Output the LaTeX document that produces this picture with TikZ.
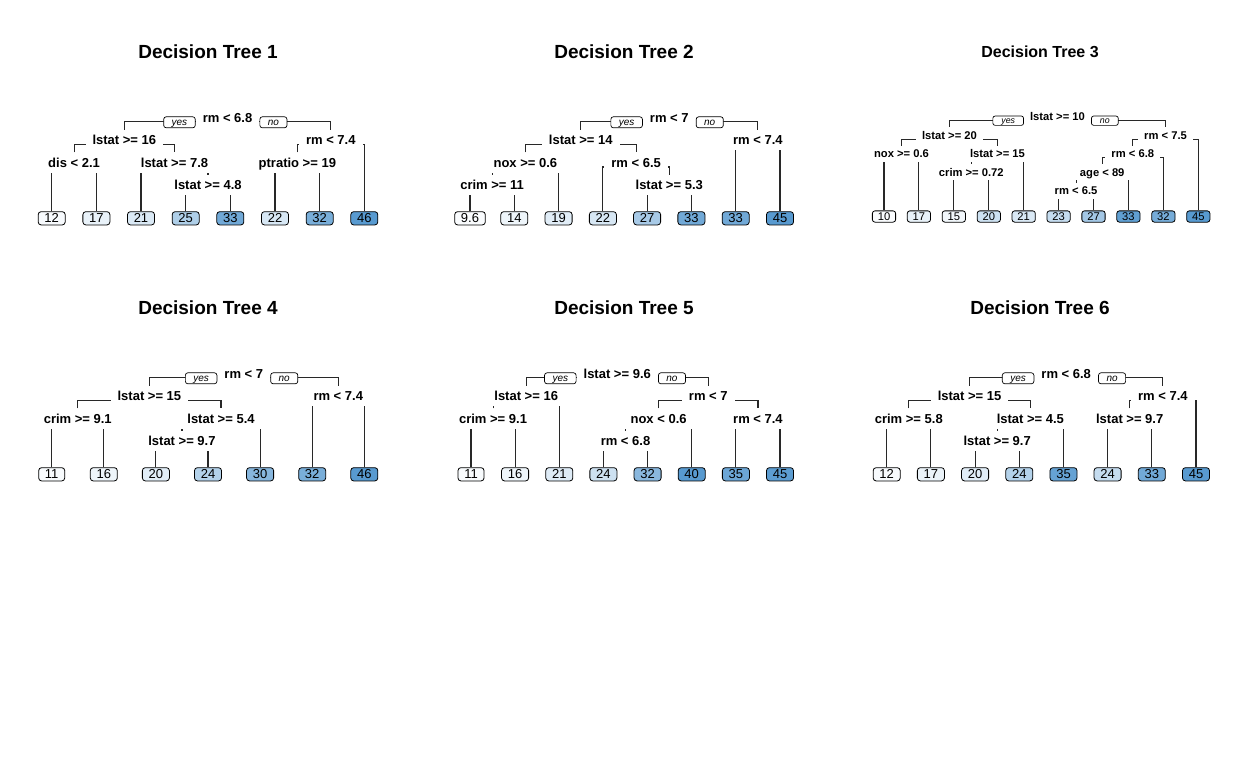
\documentclass[tikz,border=0pt]{standalone}
\usepackage{fontspec}
\setmainfont{Liberation Sans}
\usetikzlibrary{calc,backgrounds}
\definecolor{lb}{RGB}{88,154,208}
\definecolor{ln}{RGB}{40,40,40}
\tikzset{
  split/.style={font=\fontsize{13}{13}\selectfont\bfseries, fill=white, inner xsep=7pt, inner ysep=0pt,
    text height=9.4pt, text depth=0pt, minimum height=20pt},
  splitS/.style={font=\fontsize{11.2}{11.2}\selectfont\bfseries, fill=white, inner xsep=6pt, inner ysep=0pt,
    text height=8.1pt, text depth=0pt, minimum height=16pt},
  leafbox/.style={draw=black, rounded corners=3pt, line width=0.8pt, fill=lb!#1!white,
    font=\fontsize{13}{13}\selectfont, inner xsep=6.3pt, inner ysep=2pt, text height=9.3pt, text depth=0pt},
  leafboxS/.style={draw=black, rounded corners=2.6pt, line width=0.8pt, fill=lb!#1!white,
    font=\fontsize{11.2}{11.2}\selectfont, inner xsep=5.4pt, inner ysep=1.6pt, text height=8.1pt, text depth=0pt},
  yesno/.style={draw=black, rounded corners=2.5pt, line width=0.7pt, fill=white,
    font=\fontsize{10}{10}\selectfont\itshape, inner xsep=8pt, inner ysep=0.6pt, text height=7.6pt, text depth=2.2pt},
  yesnoS/.style={draw=black, rounded corners=2.2pt, line width=0.7pt, fill=white,
    font=\fontsize{8.8}{8.8}\selectfont\itshape, inner xsep=8.5pt, inner ysep=0.4pt, text height=6.6pt, text depth=1.9pt},
  conn/.style={draw=ln, line width=1.1pt},
  ttl/.style={font=\fontsize{19}{19}\selectfont\bfseries, text height=13.6pt, text depth=0pt, inner sep=0pt},
  ttlS/.style={font=\fontsize{16}{16}\selectfont\bfseries, text height=11.5pt, text depth=0pt, inner sep=0pt}
}
% leaf: name, x, y, fill percentage, value
\newcommand\lf[5]{\node[leafbox=#4] (#1) at (#2,#3) {#5};}
\newcommand\lfS[5]{\node[leafboxS=#4] (#1) at (#2,#3) {#5};}
% branch: left child, parent, right child (optional drop of the bar below the split label)
\newcommand\cn[4][4.5]{\draw[conn] (#2.north) |- ($(#3.center)+(0,#1)$) -| (#4.north);}
\begin{document}
\begin{tikzpicture}[x=1pt,y=-1pt]
\useasboundingbox (0,0) rectangle (1248,768);

% ---------- titles ----------
\node[ttl] (h1) at (208,52) {Decision Tree 1};
\node[ttl] (h2) at (624,52) {Decision Tree 2};
\node[ttlS] (h3) at (1040,52) {Decision Tree 3};
\node[ttl] (h4) at (208,308) {Decision Tree 4};
\node[ttl] (h5) at (624,308) {Decision Tree 5};
\node[ttl] (h6) at (1040,308) {Decision Tree 6};

% ---------- tree 1 ----------
\node[split] (t1r) at (227.55,117.3) {rm < 6.8};
\node[split] (t1a) at (124.3,139.9) {lstat >= 16};
\node[split] (t1b) at (330.8,139.9) {rm < 7.4};
\node[split] (t1c) at (74.05,162.5) {dis < 2.1};
\node[split] (t1d) at (174.5,162.5) {lstat >= 7.8};
\node[split] (t1e) at (297.35,162.5) {ptratio >= 19};
\node[split] (t1f) at (208.0,185.1) {lstat >= 4.8};
\lf{t1l1}{51.7}{218.3}{5}{12}
\lf{t1l2}{96.4}{218.3}{13}{17}
\lf{t1l3}{141.0}{218.3}{22}{21}
\lf{t1l4}{185.7}{218.3}{48}{25}
\lf{t1l5}{230.3}{218.3}{85}{33}
\lf{t1l6}{275.0}{218.3}{24}{22}
\lf{t1l7}{319.7}{218.3}{80}{32}
\lf{t1l8}{364.3}{218.3}{100}{46}
\node[yesno,anchor=east] (t1y) at ($(t1r.west)+(0,5)$) {yes};
\node[yesno,anchor=west] (t1n) at ($(t1r.east)+(0,5)$) {no};

% ---------- tree 2 ----------
\node[split] (t2r) at (669.3,117.3) {rm < 7};
\node[split] (t2a) at (580.75,139.9) {lstat >= 14};
\node[split] (t2b) at (757.85,139.9) {rm < 7.4};
\node[split] (t2c) at (525.4,162.5) {nox >= 0.6};
\node[split] (t2d) at (636.1,162.5) {rm < 6.5};
\node[split] (t2e) at (492.15,185.1) {crim >= 11};
\node[split] (t2f) at (669.25,185.1) {lstat >= 5.3};
\lf{t2l1}{470.0}{218.3}{3}{9.6}
\lf{t2l2}{514.3}{218.3}{10}{14}
\lf{t2l3}{558.6}{218.3}{18}{19}
\lf{t2l4}{602.9}{218.3}{24}{22}
\lf{t2l5}{647.1}{218.3}{52}{27}
\lf{t2l6}{691.4}{218.3}{85}{33}
\lf{t2l7}{735.7}{218.3}{85}{33}
\lf{t2l8}{780.0}{218.3}{100}{45}
\node[yesno,anchor=east] (t2y) at ($(t2r.west)+(0,5)$) {yes};
\node[yesno,anchor=west] (t2n) at ($(t2r.east)+(0,5)$) {no};

% ---------- tree 3 ----------
\node[splitS] (t3r) at (1057.5,116.7) {lstat >= 10};
\node[splitS] (t3a) at (949.5,135.2) {lstat >= 20};
\node[splitS] (t3b) at (1165.55,135.2) {rm < 7.5};
\node[splitS] (t3c) at (901.45,153.7) {nox >= 0.6};
\node[splitS] (t3d) at (997.5,153.7) {lstat >= 15};
\node[splitS] (t3e) at (1132.8,153.7) {rm < 6.8};
\node[splitS] (t3f) at (971.3,172.2) {crim >= 0.72};
\node[splitS] (t3g) at (1102.2,172.2) {age < 89};
\node[splitS] (t3h) at (1076.05,190.7) {rm < 6.5};
\lfS{t3l1}{884.0}{216.5}{3}{10}
\lfS{t3l2}{918.9}{216.5}{13}{17}
\lfS{t3l3}{953.8}{216.5}{8}{15}
\lfS{t3l4}{988.8}{216.5}{30}{20}
\lfS{t3l5}{1023.7}{216.5}{22}{21}
\lfS{t3l6}{1058.6}{216.5}{35}{23}
\lfS{t3l7}{1093.5}{216.5}{55}{27}
\lfS{t3l8}{1128.4}{216.5}{95}{33}
\lfS{t3l9}{1163.4}{216.5}{82}{32}
\lfS{t3l10}{1198.3}{216.5}{100}{45}
\node[yesnoS,anchor=east] (t3y) at ($(t3r.west)+(0,4)$) {yes};
\node[yesnoS,anchor=west] (t3n) at ($(t3r.east)+(0,4)$) {no};

% ---------- tree 4 ----------
\node[split] (t4r) at (243.8,373.3) {rm < 7};
\node[split] (t4a) at (149.4,395.9) {lstat >= 15};
\node[split] (t4b) at (338.25,395.9) {rm < 7.4};
\node[split] (t4c) at (77.75,418.5) {crim >= 9.1};
\node[split] (t4d) at (221.0,418.5) {lstat >= 5.4};
\node[split] (t4e) at (181.95,441.1) {lstat >= 9.7};
\lf{t4l1}{51.7}{474.3}{4}{11}
\lf{t4l2}{103.8}{474.3}{10}{16}
\lf{t4l3}{155.9}{474.3}{18}{20}
\lf{t4l4}{208.0}{474.3}{45}{24}
\lf{t4l5}{260.1}{474.3}{72}{30}
\lf{t4l6}{312.2}{474.3}{80}{32}
\lf{t4l7}{364.3}{474.3}{100}{46}
\node[yesno,anchor=east] (t4y) at ($(t4r.west)+(0,5)$) {yes};
\node[yesno,anchor=west] (t4n) at ($(t4r.east)+(0,5)$) {no};

% ---------- tree 5 ----------
\node[split] (t5r) at (617.25,373.3) {lstat >= 9.6};
\node[split] (t5a) at (526.2,395.9) {lstat >= 16};
\node[split] (t5b) at (708.3,395.9) {rm < 7};
\node[split] (t5c) at (493.05,418.5) {crim >= 9.1};
\node[split] (t5d) at (658.6,418.5) {nox < 0.6};
\node[split] (t5e) at (757.95,418.5) {rm < 7.4};
\node[split] (t5f) at (625.5,441.1) {rm < 6.8};
\lf{t5l1}{471.0}{474.3}{4}{11}
\lf{t5l2}{515.1}{474.3}{10}{16}
\lf{t5l3}{559.3}{474.3}{20}{21}
\lf{t5l4}{603.4}{474.3}{30}{24}
\lf{t5l5}{647.6}{474.3}{70}{32}
\lf{t5l6}{691.7}{474.3}{100}{40}
\lf{t5l7}{735.9}{474.3}{88}{35}
\lf{t5l8}{780.0}{474.3}{97}{45}
\node[yesno,anchor=east] (t5y) at ($(t5r.west)+(0,5)$) {yes};
\node[yesno,anchor=west] (t5n) at ($(t5r.east)+(0,5)$) {no};

% ---------- tree 6 ----------
\node[split] (t6r) at (1066.2,373.3) {rm < 6.8};
\node[split] (t6a) at (969.6,395.9) {lstat >= 15};
\node[split] (t6b) at (1162.85,395.9) {rm < 7.4};
\node[split] (t6c) at (908.8,418.5) {crim >= 5.8};
\node[split] (t6d) at (1030.35,418.5) {lstat >= 4.5};
\node[split] (t6e) at (1129.7,418.5) {lstat >= 9.7};
\node[split] (t6f) at (997.2,441.1) {lstat >= 9.7};
\lf{t6l1}{886.7}{474.3}{5}{12}
\lf{t6l2}{930.9}{474.3}{12}{17}
\lf{t6l3}{975.1}{474.3}{18}{20}
\lf{t6l4}{1019.3}{474.3}{45}{24}
\lf{t6l5}{1063.5}{474.3}{92}{35}
\lf{t6l6}{1107.6}{474.3}{35}{24}
\lf{t6l7}{1151.8}{474.3}{85}{33}
\lf{t6l8}{1196.0}{474.3}{100}{45}
\node[yesno,anchor=east] (t6y) at ($(t6r.west)+(0,5)$) {yes};
\node[yesno,anchor=west] (t6n) at ($(t6r.east)+(0,5)$) {no};

% ---------- branches, drawn underneath the labels ----------
\begin{pgfonlayer}{background}
\fill[white] (0,0) rectangle (1248,768);
% tree 1
\cn{t1a}{t1r}{t1b}
\cn{t1c}{t1a}{t1d}
\cn{t1l1}{t1c}{t1l2}
\cn{t1l3}{t1d}{t1f}
\cn{t1l4}{t1f}{t1l5}
\cn{t1e}{t1b}{t1l8}
\cn{t1l6}{t1e}{t1l7}
% tree 2
\cn{t2a}{t2r}{t2b}
\cn{t2c}{t2a}{t2d}
\cn{t2e}{t2c}{t2l3}
\cn{t2l1}{t2e}{t2l2}
\cn{t2l4}{t2d}{t2f}
\cn{t2l5}{t2f}{t2l6}
\cn{t2l7}{t2b}{t2l8}
% tree 3
\cn[4]{t3a}{t3r}{t3b}
\cn[4]{t3c}{t3a}{t3d}
\cn[4]{t3l1}{t3c}{t3l2}
\cn[4]{t3f}{t3d}{t3l5}
\cn[4]{t3l3}{t3f}{t3l4}
\cn[4]{t3e}{t3b}{t3l10}
\cn[4]{t3g}{t3e}{t3l9}
\cn[4]{t3h}{t3g}{t3l8}
\cn[4]{t3l6}{t3h}{t3l7}
% tree 4
\cn{t4a}{t4r}{t4b}
\cn{t4c}{t4a}{t4d}
\cn{t4l1}{t4c}{t4l2}
\cn{t4e}{t4d}{t4l5}
\cn{t4l3}{t4e}{t4l4}
\cn{t4l6}{t4b}{t4l7}
% tree 5
\cn{t5a}{t5r}{t5b}
\cn{t5c}{t5a}{t5l3}
\cn{t5l1}{t5c}{t5l2}
\cn{t5d}{t5b}{t5e}
\cn{t5f}{t5d}{t5l6}
\cn{t5l4}{t5f}{t5l5}
\cn{t5l7}{t5e}{t5l8}
% tree 6
\cn{t6a}{t6r}{t6b}
\cn{t6c}{t6a}{t6d}
\cn{t6l1}{t6c}{t6l2}
\cn{t6f}{t6d}{t6l5}
\cn{t6l3}{t6f}{t6l4}
\cn{t6e}{t6b}{t6l8}
\cn{t6l6}{t6e}{t6l7}
\end{pgfonlayer}
\end{tikzpicture}
\end{document}
